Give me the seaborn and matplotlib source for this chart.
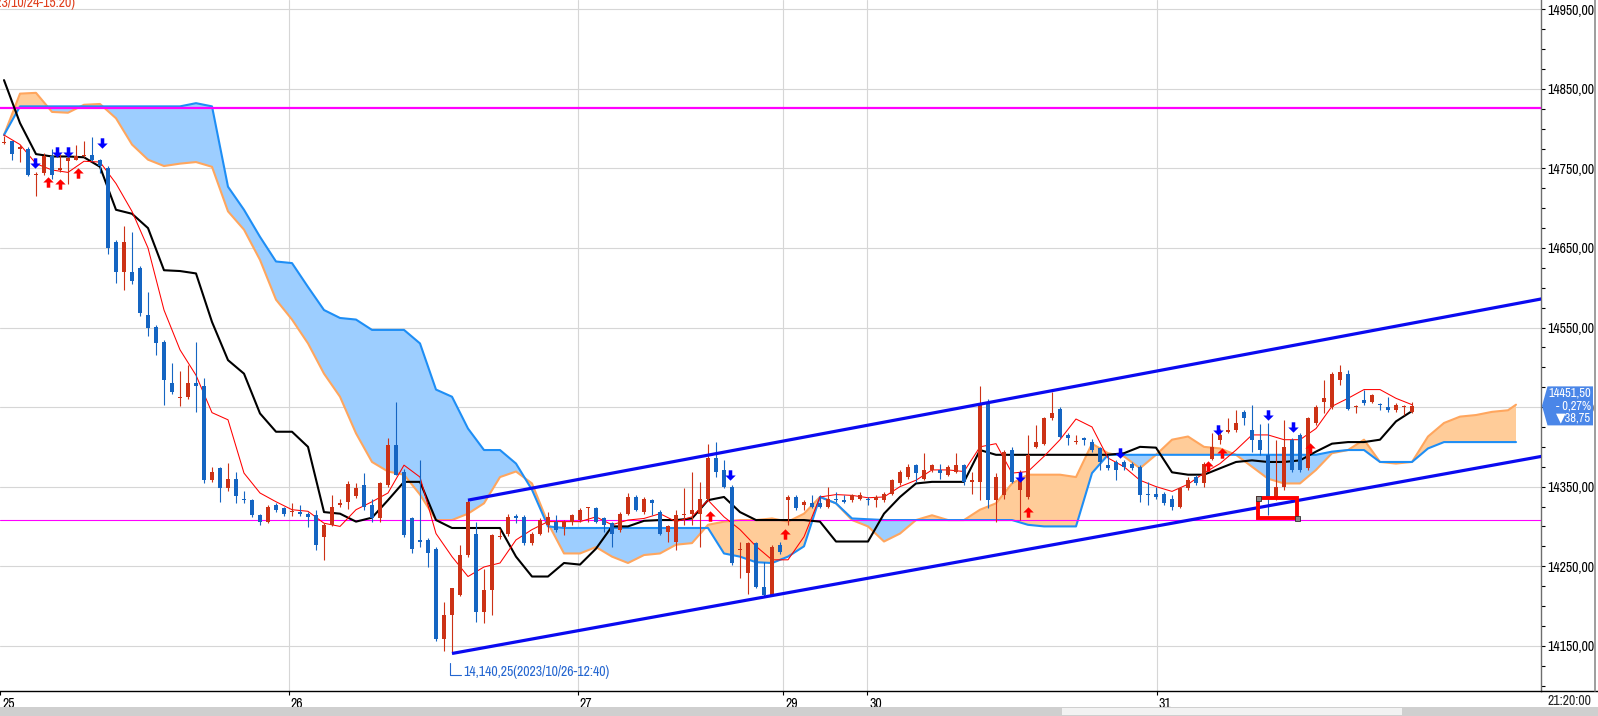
import matplotlib
matplotlib.use("Agg")
import matplotlib.pyplot as plt
import matplotlib.transforms as mtransforms
import numpy as np
import pandas as pd
import seaborn as sns
from matplotlib import font_manager
from matplotlib.lines import Line2D
from matplotlib.patches import Polygon, Rectangle
from matplotlib.path import Path
from matplotlib.ticker import FixedLocator, FuncFormatter

# candles (one per bar)
opens = [
    14782, 14784, 14775, 14775, 14742, 14744, 14765, 14748, 14759, 14761,
    14765, 14767, 14761, 14751, 14658, 14620, 14620, 14625, 14566, 14551,
    14532, 14480, 14461, 14463, 14480, 14476, 14358, 14373, 14348, 14360,
    14335, 14333, 14314, 14306, 14327, 14323, 14318, 14318, 14316, 14314,
    14287, 14302, 14327, 14331, 14338, 14352, 14327, 14310, 14352, 14402,
    14369, 14310, 14283, 14283, 14272, 14159, 14189, 14214, 14264, 14290,
    14193, 14220, 14287, 14290, 14312, 14312, 14279, 14291, 14302, 14306,
    14299, 14305, 14308, 14323, 14323, 14310, 14304, 14295, 14316, 14337,
    14318, 14333, 14318, 14293, 14281, 14314, 14316, 14316, 14335, 14386,
    14371, 14350, 14270, 14241, 14279, 14224, 14214, 14277, 14333, 14337,
    14327, 14329, 14329, 14325, 14335, 14333, 14333, 14335, 14335, 14333,
    14333, 14341, 14354, 14362, 14377, 14360, 14371, 14371, 14365, 14369,
    14377, 14356, 14356, 14454, 14333, 14340, 14396, 14346, 14337, 14400,
    14404, 14436, 14448, 14415, 14406, 14411, 14406, 14398, 14377, 14381,
    14381, 14379, 14375, 14341, 14341, 14341, 14335, 14325, 14348, 14362,
    14354, 14385, 14408, 14419, 14421, 14444, 14421, 14409, 14390, 14337,
    14350, 14409, 14415, 14373, 14430, 14457, 14450, 14484, 14492, 14450,
    14459, 14457, 14453, 14450, 14446, 14450, 14444,
]
highs = [
    14791, 14785, 14779, 14777, 14745, 14769, 14775, 14768, 14764, 14779,
    14784, 14790, 14762, 14753, 14660, 14677, 14670, 14627, 14595, 14553,
    14534, 14505, 14495, 14503, 14532, 14486, 14375, 14375, 14380, 14369,
    14344, 14335, 14316, 14327, 14330, 14325, 14329, 14327, 14318, 14320,
    14304, 14340, 14335, 14357, 14355, 14367, 14335, 14356, 14411, 14457,
    14372, 14312, 14383, 14285, 14274, 14205, 14223, 14277, 14335, 14305,
    14247, 14291, 14297, 14316, 14316, 14314, 14293, 14310, 14318, 14314,
    14308, 14316, 14323, 14325, 14325, 14312, 14306, 14318, 14342, 14340,
    14337, 14335, 14320, 14302, 14321, 14348, 14369, 14356, 14404, 14406,
    14383, 14352, 14281, 14281, 14281, 14255, 14276, 14280, 14339, 14339,
    14333, 14339, 14339, 14350, 14343, 14339, 14341, 14343, 14337, 14339,
    14343, 14360, 14371, 14379, 14379, 14392, 14379, 14379, 14377, 14392,
    14379, 14369, 14476, 14460, 14367, 14396, 14400, 14371, 14415, 14427,
    14438, 14469, 14450, 14417, 14415, 14413, 14410, 14400, 14390, 14383,
    14383, 14381, 14377, 14356, 14350, 14343, 14339, 14350, 14362, 14364,
    14381, 14417, 14423, 14436, 14446, 14446, 14453, 14429, 14430, 14409,
    14434, 14411, 14417, 14438, 14452, 14484, 14494, 14503, 14496, 14452,
    14471, 14467, 14455, 14463, 14455, 14452, 14457,
]
lows = [
    14781, 14761, 14758, 14740, 14715, 14742, 14737, 14746, 14731, 14760,
    14764, 14759, 14744, 14643, 14606, 14597, 14605, 14565, 14539, 14515,
    14453, 14466, 14451, 14460, 14444, 14354, 14356, 14331, 14345, 14329,
    14329, 14312, 14302, 14304, 14318, 14313, 14313, 14313, 14299, 14270,
    14258, 14300, 14325, 14322, 14336, 14320, 14305, 14306, 14350, 14364,
    14287, 14266, 14274, 14249, 14156, 14143, 14140.25, 14212, 14262, 14180,
    14178, 14189, 14284, 14288, 14304, 14276, 14277, 14289, 14293, 14293,
    14289, 14302, 14306, 14306, 14304, 14293, 14274, 14293, 14314, 14319,
    14316, 14314, 14289, 14281, 14270, 14302, 14302, 14274, 14333, 14362,
    14348, 14252, 14235, 14215, 14222, 14212, 14212, 14265, 14302, 14321,
    14320, 14323, 14323, 14323, 14331, 14329, 14331, 14333, 14327, 14325,
    14331, 14339, 14352, 14360, 14356, 14358, 14369, 14360, 14363, 14367,
    14352, 14341, 14333, 14323, 14306, 14335, 14354, 14308, 14335, 14398,
    14402, 14434, 14411, 14402, 14404, 14402, 14394, 14371, 14371, 14358,
    14371, 14371, 14331, 14327, 14335, 14327, 14320, 14323, 14346, 14352,
    14350, 14383, 14404, 14417, 14419, 14428, 14394, 14390, 14314, 14333,
    14346, 14369, 14369, 14371, 14428, 14442, 14448, 14478, 14446, 14442,
    14453, 14455, 14446, 14444, 14444, 14440, 14442,
]
closes = [
    14783, 14768, 14777, 14742, 14743, 14765, 14742, 14750, 14763, 14765,
    14767, 14761, 14753, 14650, 14620, 14658, 14608, 14568, 14549, 14530,
    14484, 14469, 14461, 14480, 14476, 14358, 14369, 14348, 14360, 14338,
    14333, 14314, 14306, 14325, 14321, 14315, 14318, 14315, 14312, 14277,
    14302, 14325, 14330, 14353, 14348, 14325, 14310, 14354, 14402, 14365,
    14289, 14272, 14281, 14266, 14158, 14189, 14222, 14264, 14331, 14193,
    14220, 14289, 14288, 14312, 14311, 14279, 14291, 14308, 14312, 14295,
    14306, 14314, 14321, 14323, 14306, 14302, 14291, 14316, 14337, 14321,
    14335, 14329, 14291, 14300, 14314, 14316, 14321, 14335, 14386, 14369,
    14350, 14254, 14270, 14279, 14224, 14214, 14274, 14268, 14337, 14323,
    14331, 14325, 14325, 14335, 14333, 14331, 14339, 14339, 14333, 14337,
    14341, 14358, 14369, 14375, 14367, 14371, 14377, 14367, 14375, 14377,
    14356, 14358, 14454, 14333, 14362, 14394, 14356, 14360, 14390, 14406,
    14436, 14442, 14413, 14411, 14406, 14408, 14396, 14381, 14373, 14371,
    14375, 14373, 14339, 14339, 14337, 14329, 14325, 14348, 14358, 14354,
    14379, 14400, 14415, 14421, 14430, 14436, 14409, 14396, 14337, 14350,
    14400, 14371, 14371, 14436, 14450, 14461, 14492, 14494, 14448, 14450,
    14455, 14465, 14452, 14446, 14453, 14450, 14451.5,
]

# ichimoku lines, read every second bar (bar 0 .. 176)
tenkan = [
    14792, 14780, 14756, 14748, 14745, 14759, 14758, 14731, 14696, 14650,
    14572, 14522, 14490, 14443, 14434, 14367, 14342, 14331, 14321, 14319,
    14304, 14300, 14321, 14331, 14342, 14377, 14362, 14291, 14262, 14237,
    14249, 14254, 14283, 14296, 14306, 14306, 14306, 14312, 14302, 14308,
    14310, 14316, 14306, 14312, 14333, 14312, 14296, 14275, 14258, 14258,
    14287, 14337, 14340, 14339, 14336, 14337, 14350, 14358, 14371, 14371,
    14369, 14400, 14404, 14367, 14369, 14388, 14409, 14435, 14425, 14386,
    14375, 14358, 14350, 14344, 14353, 14367, 14379, 14396, 14415, 14415,
    14409, 14409, 14423, 14451, 14461, 14472, 14472, 14461, 14453,
]
kijun = [
    14861, 14807, 14768, 14765, 14765, 14764, 14752, 14698, 14693, 14675,
    14622, 14621, 14618, 14557, 14509, 14492, 14442, 14419, 14419, 14400,
    14318, 14316, 14306, 14311, 14333, 14356, 14356, 14308, 14298, 14298,
    14298, 14298, 14262, 14237, 14237, 14254, 14252, 14272, 14300, 14300,
    14307, 14308, 14308, 14310, 14333, 14337, 14318, 14308, 14308, 14308,
    14308, 14306, 14281, 14281, 14281, 14316, 14337, 14354, 14356, 14356,
    14356, 14396, 14390, 14390, 14390, 14390, 14390, 14390, 14390, 14390,
    14392, 14400, 14399, 14368, 14365, 14365, 14373, 14381, 14383, 14381,
    14381, 14383, 14394, 14404, 14406, 14406, 14409, 14432, 14445,
]
# cloud spans, every second bar 0 .. 188 plus bar 189 (26 bars ahead)
span_a = [
    14792, 14844, 14845, 14821, 14820, 14830, 14831, 14813, 14780, 14761,
    14753, 14756, 14758, 14752, 14696, 14673, 14635, 14585, 14560, 14530,
    14492, 14463, 14417, 14381, 14369, 14365, 14340, 14308, 14308, 14316,
    14329, 14362, 14369, 14354, 14304, 14266, 14266, 14274, 14262, 14254,
    14264, 14266, 14277, 14279, 14302, 14306, 14308, 14308, 14310, 14306,
    14316, 14337, 14329, 14308, 14300, 14281, 14291, 14308, 14314, 14308,
    14308, 14321, 14329, 14354, 14365, 14365, 14365, 14362, 14404, 14392,
    14388, 14373, 14390, 14409, 14413, 14400, 14398, 14390, 14375, 14360,
    14354, 14354, 14371, 14392, 14396, 14409, 14381, 14379, 14381, 14413,
    14430, 14438, 14440, 14444, 14446, 14453,
]
span_b = [
    14792, 14828, 14828, 14828, 14828, 14828, 14828, 14828, 14828, 14828,
    14828, 14828, 14832, 14828, 14727, 14698, 14664, 14633, 14631, 14601,
    14572, 14562, 14560, 14547, 14547, 14547, 14530, 14472, 14463, 14423,
    14396, 14396, 14379, 14346, 14300, 14298, 14298, 14298, 14298, 14298,
    14298, 14298, 14298, 14298, 14298, 14266, 14262, 14255, 14254, 14262,
    14275, 14337, 14329, 14310, 14309, 14308, 14308, 14308, 14308, 14308,
    14308, 14308, 14308, 14308, 14302, 14300, 14300, 14300, 14367, 14390,
    14390, 14390, 14390, 14390, 14390, 14390, 14390, 14390, 14390, 14390,
    14390, 14390, 14390, 14394, 14396, 14396, 14381, 14381, 14381, 14398,
    14406, 14406, 14406, 14406, 14406, 14406,
]

# session starts on the bar axis and their labels
day_starts = [-0.45, 35.6, 71.7, 97.4, 107.9, 144.1]
day_labels = ["25", "26", "27", "29", "30", "31"]
clock_label = "21:20:00"

levels = [14826, 14308]
channel_low = [(56, 14140.25), (193, 14389.5)]
channel_high = [(58, 14333), (193, 14587.5)]

sell_bars = [3.9, 6.6, 8.0, 12.3, 90.75, 127.0, 139.5, 151.7, 158.0, 161.1]
sell_prices = [14757, 14771, 14771, 14782, 14365, 14362, 14392, 14421, 14440, 14425]
buy_bars = [5.5, 7.0, 9.2, 88.2, 97.6, 128.0, 150.5, 152.2, 163.2]
buy_prices = [14733, 14731, 14744, 14313, 14290, 14318, 14376, 14392, 14399]

box_bars = (156.7, 161.6)
box_prices = (14310, 14336)

low_bar, low_price, low_time = 56, 14140.25, "2023/10/26-12:40"
high_time = "2023/10/24-15:20"
prev_close = 14490.25


def comma(v):
    return f"{v:.2f}".replace(".", ",")


sns.set_theme(style="white")

# pick a narrow face when one is installed, else a plain one set smaller
ttf = font_manager.fontManager.ttflist
narrow = sorted({f.name for f in ttf if "Narrow" in f.name or "Condensed" in f.name})
cond_dv = [f for f in ttf if f.name == "DejaVu Sans" and "condensed" in str(f.stretch)]
if narrow:
    family, fsize, stretch = narrow[0], 10, "normal"
elif cond_dv:
    family, fsize, stretch = "DejaVu Sans", 9.5, "condensed"
else:
    family, fsize, stretch = "Liberation Sans", 8, "normal"
plt.rcParams["font.family"] = [family, "DejaVu Sans"]
plt.rcParams["font.stretch"] = stretch

W, H = 1598, 716
fig = plt.figure(figsize=(W / 100, H / 100), dpi=100)
fig.patch.set_facecolor("white")
ax = fig.add_axes([0, 25 / H, 1541 / W, 691 / H])

price_ticks = np.arange(14150, 14951, 100)
for p in price_ticks:
    ax.axhline(p, color="#D6D6D6", lw=0.8, zorder=0)
for d in day_starts[1:]:
    ax.axvline(d, color="#D6D6D6", lw=0.8, zorder=0)

# cloud
cloud_x = np.append(np.arange(0, 189, 2), 189)
a = np.array(span_a, dtype=float)
b = np.array(span_b, dtype=float)
ax.fill_between(cloud_x, a, b, where=a >= b, interpolate=True, color="#FFCC99", lw=0, zorder=1)
ax.fill_between(cloud_x, a, b, where=b > a, interpolate=True, color="#9DCEFF", lw=0, zorder=1)
sns.lineplot(x=cloud_x, y=a, ax=ax, color="#FFA65E", lw=1.5, zorder=2)
sns.lineplot(x=cloud_x, y=b, ax=ax, color="#1E8EF5", lw=1.5, zorder=2)

ax.axhline(levels[0], color="#FF00FF", lw=1.6, zorder=3)
ax.axhline(levels[1], color="#FF00FF", lw=0.8, zorder=3)

line_x = np.arange(0, 177, 2)
sns.lineplot(x=line_x, y=kijun, ax=ax, color="black", lw=1.5, zorder=4)
sns.lineplot(x=line_x, y=tenkan, ax=ax, color="#FF0000", lw=0.75, zorder=4)

# candles
bars = pd.DataFrame({"open": opens, "high": highs, "low": lows, "close": closes})
colors = np.where(bars["close"] >= bars["open"], "#CC3216", "#1565C2")
x = np.arange(len(bars))
ax.vlines(x, bars["low"], bars["high"], colors=colors, lw=0.8, zorder=5)
body = (bars["close"] - bars["open"]).abs().clip(lower=1.5)
ax.bar(x, body, bottom=bars[["open", "close"]].min(axis=1), width=0.62,
       color=colors, lw=0, zorder=5)

# channel
for line in (channel_low, channel_high):
    xs, ys = zip(*line)
    ax.plot(xs, ys, color="#0A0AF0", lw=2.3, solid_capstyle="butt", zorder=6)

# signal arrows
up_arrow = Path([(-0.17, -0.5), (0.17, -0.5), (0.17, 0.0), (0.5, 0.0),
                 (0.0, 0.5), (-0.5, 0.0), (-0.17, 0.0), (-0.17, -0.5)])
down_arrow = Path([(vx, -vy) for vx, vy in up_arrow.vertices])
ax.plot(sell_bars, sell_prices, ls="none", marker=down_arrow, ms=7.5,
        color="#0000FF", mec="#0000FF", mew=0, zorder=7)
ax.plot(buy_bars, buy_prices, ls="none", marker=up_arrow, ms=7.5,
        color="#FF0000", mec="#FF0000", mew=0, zorder=7)

# marked zone
ax.add_patch(Rectangle((box_bars[0], box_prices[0]), box_bars[1] - box_bars[0],
                       box_prices[1] - box_prices[0], fill=False, ec="#FF0000",
                       lw=2.8, zorder=8))
ax.plot([box_bars[0], box_bars[1]], [box_prices[1], box_prices[0]], ls="none",
        marker="s", ms=3.6, color="#8A8A8A", mec="#303030", mew=0.6, zorder=9)

ax.set_xlim(-0.5, 192.125)
ax.set_ylim(14093.1, 14961.7)
ax.set_xlabel("")
ax.set_ylabel("")

# axes styling
for side in ("top", "left"):
    ax.spines[side].set_visible(False)
ax.spines["bottom"].set_color("black")
ax.spines["bottom"].set_linewidth(1)
ax.spines["right"].set_color("#6E6E6E")
ax.spines["right"].set_linewidth(1)

ax.yaxis.tick_right()
ax.yaxis.set_major_locator(FixedLocator(price_ticks))
ax.yaxis.set_minor_locator(FixedLocator(np.arange(14100, 14961, 25)))
ax.yaxis.set_major_formatter(FuncFormatter(lambda v, _: comma(v)))
ax.tick_params(axis="y", which="both", direction="out", length=3, width=0.8,
               colors="black", pad=1.5, labelsize=fsize, right=True, left=False)

ax.set_xticks(day_starts)
ax.set_xticklabels(day_labels)
ax.tick_params(axis="x", direction="out", length=3, width=0.8, colors="black",
               pad=1.5, labelsize=fsize, bottom=True)
shift = mtransforms.ScaledTranslation(0.02, 0, fig.dpi_scale_trans)
for lab in ax.get_xticklabels():
    lab.set_horizontalalignment("left")
    lab.set_transform(lab.get_transform() + shift)

fig.text(1591 / W, 1 - 701 / H, clock_label, ha="right", va="center", fontsize=fsize)
fig.add_artist(Line2D([1541 / W, 1], [25 / H, 25 / H], color="black", lw=1))
fig.add_artist(Line2D([1594.5 / W, 1594.5 / W], [25 / H, 1], color="#8C8C8C", lw=1.2))
fig.add_artist(Rectangle((0, 0), 1, 9 / H, transform=fig.transFigure,
                         color="#CFCFCF", lw=0))
fig.add_artist(Rectangle((1062 / W, 1 / H), 340 / W, 7 / H, transform=fig.transFigure,
                         color="#F2F2F2", lw=0))

# high / low labels
ax.text(76 / 1541, 1 - 3 / 691, f"({high_time})", transform=ax.transAxes,
        ha="right", va="center", fontsize=fsize, color="#E0401E", clip_on=True)

lx, ly = ax.transData.transform((low_bar, low_price))
fig.add_artist(Line2D([(lx - 2) / W, (lx - 2) / W, (lx + 9) / W],
                      [(ly - 10) / H, (ly - 22) / H, (ly - 22) / H],
                      color="#2466D0", lw=0.8))
fig.text((lx + 11) / W, (ly - 19) / H,
         f"{low_price:,.2f}".replace(".", ",") + f"({low_time})",
         ha="left", va="center", fontsize=fsize, color="#2466D0")

# last price box
yc = ax.transData.transform((0, closes[-1]))[1]
verts = [(1542, yc), (1547.5, yc + 19.5), (1593, yc + 19.5), (1593, yc - 19.5), (1547.5, yc - 19.5)]
fig.add_artist(Polygon([(vx / W, vy / H) for vx, vy in verts], closed=True,
                       transform=fig.transFigure, color="#4A86E8", lw=0))
change = closes[-1] - prev_close
pct = change / prev_close * 100
box_lines = [comma(closes[-1]), f"- {abs(pct):.2f}%".replace(".", ","), "▼" + comma(abs(change))]
for n, txt in enumerate(box_lines):
    fig.text(1591 / W, (yc + 12.5 - 12.5 * n) / H, txt, ha="right", va="center",
             fontsize=fsize - 1, color="white")

fig.savefig("out.png", dpi=100)
